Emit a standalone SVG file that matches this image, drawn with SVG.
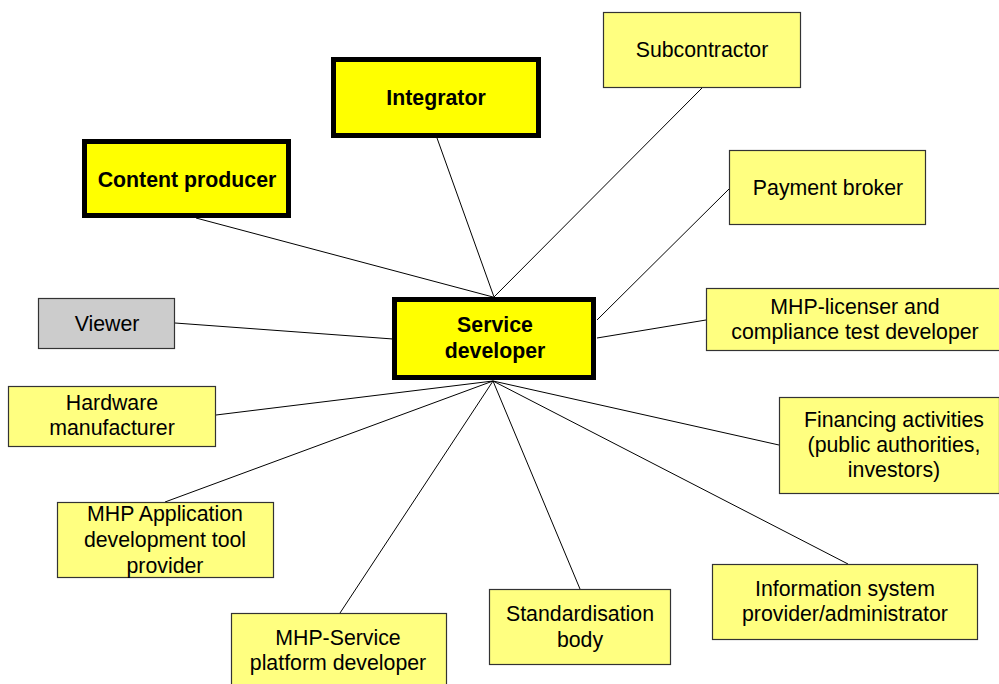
<svg xmlns="http://www.w3.org/2000/svg" width="999" height="684" viewBox="0 0 999 684">
  <style>
    .box { fill: #FFFF80; stroke: #333333; stroke-width: 1.2; }
    .key { fill: #FFFF00; stroke: #000000; stroke-width: 5; }
    .grey { fill: #CCCCCC; stroke: #333333; stroke-width: 1.2; }
    .lbl { font-family: "Liberation Sans", Arial, sans-serif; font-size: 21.3px; fill: #000000; text-anchor: middle; }
    .bold { font-weight: bold; }
    .conn line { stroke: #000000; stroke-width: 1; }
  </style>
  <rect width="999" height="684" fill="#FFFFFF"/>

  <!-- connectors -->
  <g id="connectors" class="conn">
    <line x1="702" y1="88" x2="494" y2="297"/>
    <line x1="437" y1="138" x2="494" y2="297"/>
    <line x1="196" y1="218" x2="493" y2="297"/>
    <line x1="729" y1="189" x2="597" y2="320"/>
    <line x1="706" y1="320" x2="597" y2="338"/>
    <line x1="175" y1="323" x2="393" y2="339"/>
    <line x1="493" y1="381" x2="216" y2="415"/>
    <line x1="493" y1="381" x2="165" y2="502"/>
    <line x1="493" y1="381" x2="340" y2="613"/>
    <line x1="493" y1="381" x2="580" y2="589"/>
    <line x1="493" y1="381" x2="779" y2="445"/>
    <line x1="493" y1="381" x2="848" y2="564"/>
  </g>

  <g id="subcontractor">
    <rect class="box" x="603.5" y="12.5" width="197" height="75"/>
    <text class="lbl" x="702" y="57">Subcontractor</text>
  </g>

  <g id="integrator">
    <rect class="key" x="333.5" y="59.5" width="205" height="76"/>
    <text class="lbl bold" x="436" y="105">Integrator</text>
  </g>

  <g id="content-producer">
    <rect class="key" x="84.5" y="141.5" width="204" height="74"/>
    <text class="lbl bold" x="187" y="187">Content producer</text>
  </g>

  <g id="payment-broker">
    <rect class="box" x="729.5" y="150.5" width="196" height="74"/>
    <text class="lbl" x="828" y="195">Payment broker</text>
  </g>

  <g id="viewer">
    <rect class="grey" x="38.5" y="298.5" width="136" height="50"/>
    <text class="lbl" x="107" y="331">Viewer</text>
  </g>

  <g id="service-developer">
    <rect class="key" x="394.5" y="299.5" width="199" height="78"/>
    <text class="lbl bold" x="495" y="332">Service</text>
    <text class="lbl bold" x="495" y="358">developer</text>
  </g>

  <g id="mhp-licenser">
    <rect class="box" x="706.5" y="288.5" width="300" height="62"/>
    <text class="lbl" x="855" y="314">MHP-licenser and</text>
    <text class="lbl" x="855" y="339">compliance test developer</text>
  </g>

  <g id="hardware-manufacturer">
    <rect class="box" x="8.5" y="386.5" width="207" height="60"/>
    <text class="lbl" x="112" y="410">Hardware</text>
    <text class="lbl" x="112" y="435">manufacturer</text>
  </g>

  <g id="financing">
    <rect class="box" x="779.5" y="397.5" width="220" height="96"/>
    <text class="lbl" x="894" y="427">Financing activities</text>
    <text class="lbl" x="894" y="452">(public authorities,</text>
    <text class="lbl" x="894" y="477">investors)</text>
  </g>

  <g id="mhp-application-tool">
    <rect class="box" x="57.5" y="502.5" width="216" height="75"/>
    <text class="lbl" x="165" y="521">MHP Application</text>
    <text class="lbl" x="165" y="547">development tool</text>
    <text class="lbl" x="165" y="573">provider</text>
  </g>

  <g id="information-system">
    <rect class="box" x="712.5" y="564.5" width="265" height="75"/>
    <text class="lbl" x="845" y="596">Information system</text>
    <text class="lbl" x="845" y="621">provider/administrator</text>
  </g>

  <g id="standardisation-body">
    <rect class="box" x="489.5" y="589.5" width="181" height="75"/>
    <text class="lbl" x="580" y="621">Standardisation</text>
    <text class="lbl" x="580" y="647">body</text>
  </g>

  <g id="mhp-service-platform">
    <rect class="box" x="231.5" y="613.5" width="215" height="80"/>
    <text class="lbl" x="338" y="645">MHP-Service</text>
    <text class="lbl" x="338" y="670">platform developer</text>
  </g>
</svg>
